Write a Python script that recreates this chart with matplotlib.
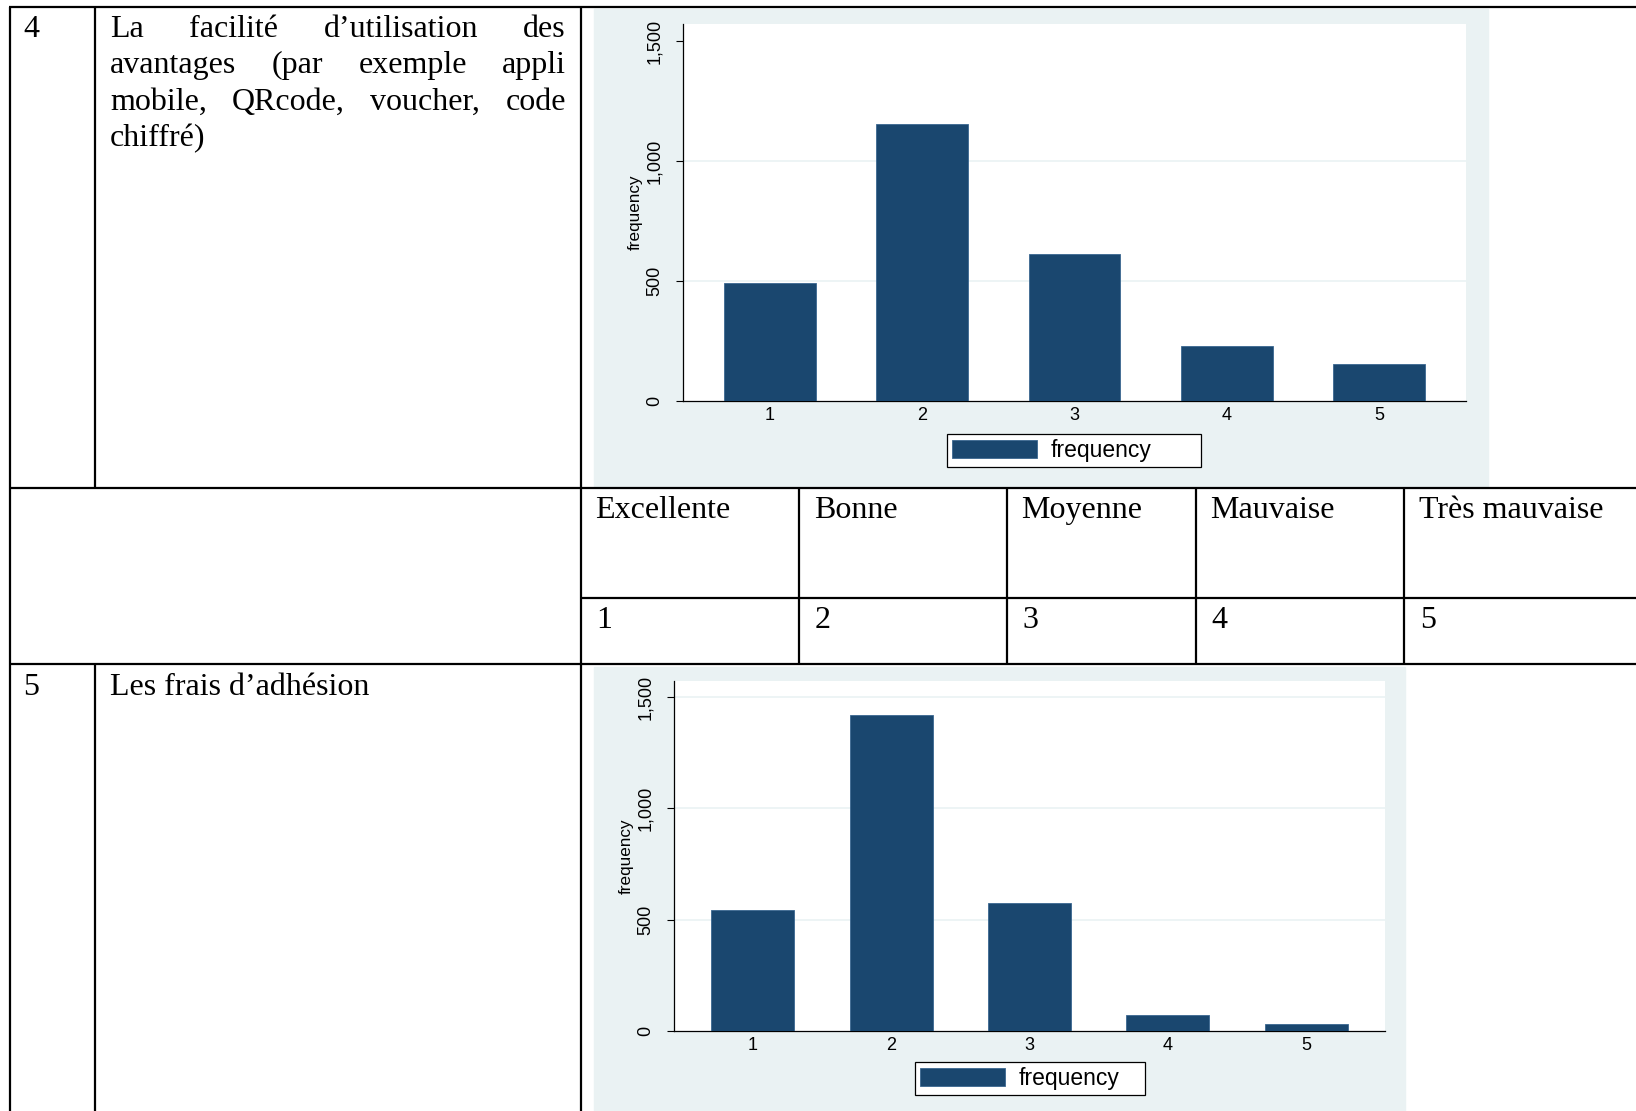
import numpy as np
import matplotlib.pyplot as plt
from matplotlib.patches import Rectangle

W, H = 1636, 1111

categories = [1, 2, 3, 4, 5]
freq_facilite = [493, 1154, 611, 228, 154]
freq_frais = [543, 1418, 573, 72, 33]
rating_labels = ["Excellente", "Bonne", "Moyenne", "Mauvaise", "Très mauvaise"]
rating_codes = ["1", "2", "3", "4", "5"]
yticks = [0, 500, 1000, 1500]
ytick_labels = ["0", "500", "1,000", "1,500"]

item4_lines = [["La", "facilité", "d’utilisation", "des"],
               ["avantages", "(par", "exemple", "appli"],
               ["mobile,", "QRcode,", "voucher,", "code"],
               ["chiffré)"]]
item5_text = "Les frais d’adhésion"

navy = "#1a476f"
panel_bg = "#eaf2f3"
serif = "Liberation Serif"
sans = "Liberation Sans"

fig = plt.figure(figsize=(W / 100, H / 100), dpi=100)
page = fig.add_axes([0, 0, 1, 1])
page.set_xlim(0, W)
page.set_ylim(H, 0)
page.axis("off")


def hline(y, x0, x1):
    page.plot([x0, x1], [y, y], color="black", lw=1.6, solid_capstyle="butt")


def vline(x, y0, y1):
    page.plot([x, x], [y0, y1], color="black", lw=1.6, solid_capstyle="butt")


# panels behind the two Stata graphs
page.add_patch(Rectangle((594, 9), 894, 477, color=panel_bg, zorder=0))
page.add_patch(Rectangle((594, 667), 811, 444, color=panel_bg, zorder=0))

# table grid
hline(7, 9, W)
hline(488, 9, W)
hline(598, 581, W)
hline(664, 9, W)
vline(9.5, 7, H)
vline(95, 7, 488)
vline(95, 664, H)
vline(581, 7, H)
for x in [799, 1007, 1196, 1404]:
    vline(x, 488, 664)

# table text
tkw = dict(fontfamily=serif, fontsize=23, va="baseline", ha="left")
page.text(23, 37, "4", **tkw)
page.text(23, 695, "5", **tkw)
page.text(110, 695, item5_text, **tkw)

renderer = fig.canvas.get_renderer()
x_left, x_right = 110, 566
for i, words in enumerate(item4_lines):
    y = 37 + i * 36.5
    texts = [page.text(0, y, w, **tkw) for w in words]
    widths = [t.get_window_extent(renderer).width for t in texts]
    if len(words) == 1:
        texts[0].set_x(x_left)
        continue
    gap = (x_right - x_left - sum(widths)) / (len(words) - 1)
    x = x_left
    for t, w in zip(texts, widths):
        t.set_x(x)
        x += w + gap

label_x = [595, 814, 1021, 1210, 1419]
for x, lab, code in zip(label_x, rating_labels, rating_codes):
    page.text(x, 518, lab, **tkw)
    page.text(x + 1, 628, code, **tkw)


def px_axes(l, t, r, b):
    return fig.add_axes([l / W, 1 - b / H, (r - l) / W, (b - t) / H])


def bar_chart(ax, values, legend_box, grid_levels):
    ax.bar(categories, values, width=0.6, color=navy, edgecolor="#3a6790",
           linewidth=0.6, label="frequency", zorder=3)
    ax.set_xlim(0.43, 5.57)
    ax.set_ylim(0, 1572)
    ax.set_yticks(yticks, ytick_labels, rotation=90, va="center",
                  fontfamily=sans, fontsize=13)
    ax.set_xticks(categories, [str(c) for c in categories],
                  fontfamily=sans, fontsize=13)
    ax.tick_params(axis="x", length=0, pad=4)
    ax.tick_params(axis="y", length=5, pad=9, width=0.8)
    for g in grid_levels:
        ax.axhline(g, color=panel_bg, lw=1.2, zorder=1)
    for s in ["top", "right"]:
        ax.spines[s].set_visible(False)
    for s in ["left", "bottom"]:
        ax.spines[s].set_linewidth(0.9)
    ax.set_ylabel("frequency", fontfamily=sans, fontsize=12.3, labelpad=3)
    leg = ax.legend(loc="upper left", bbox_to_anchor=legend_box, mode="expand",
                    frameon=True, fancybox=False, edgecolor="black",
                    framealpha=1, handlelength=3.7, handleheight=0.78,
                    handletextpad=0.6, borderpad=0.22, borderaxespad=0,
                    prop={"family": sans, "size": 16.5})
    leg.get_frame().set_linewidth(0.9)


ax1 = px_axes(683, 24, 1466, 401)
bar_chart(ax1, freq_facilite, ((947 - 683) / 783, -(434 - 401) / 377, 254 / 783, 0),
          [500, 1000])

ax2 = px_axes(674, 681, 1385, 1031)
bar_chart(ax2, freq_frais, ((915 - 674) / 711, -(1062 - 1031) / 350, 230 / 711, 0),
          [500, 1000, 1500])

fig.savefig("out.png", dpi=100)
